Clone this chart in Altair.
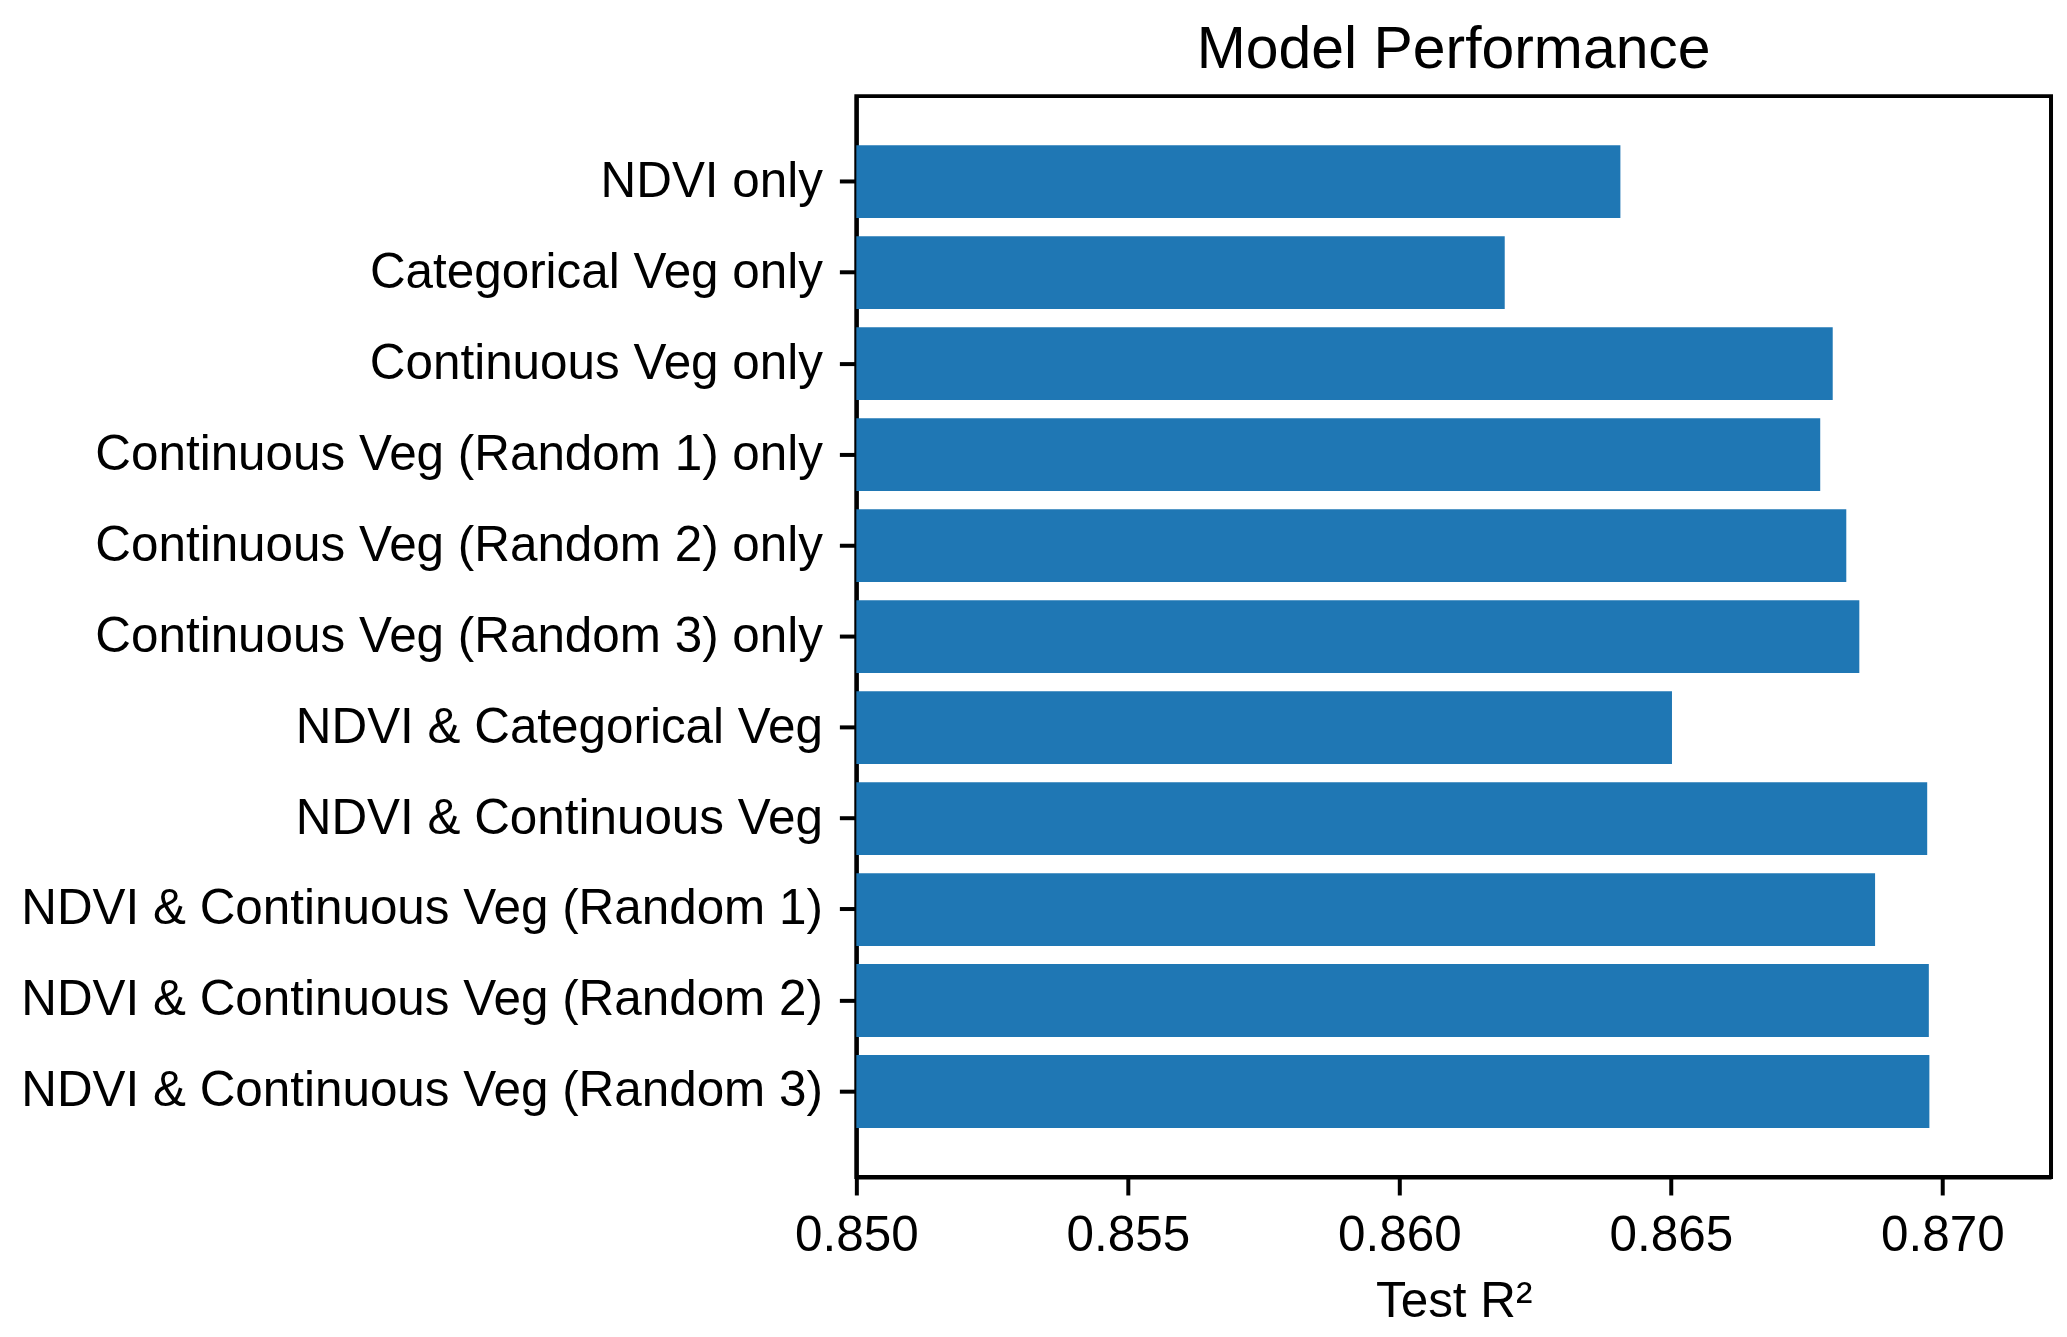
import altair as alt
import pandas as pd

models = [
    "NDVI only",
    "Categorical Veg only",
    "Continuous Veg only",
    "Continuous Veg (Random 1) only",
    "Continuous Veg (Random 2) only",
    "Continuous Veg (Random 3) only",
    "NDVI & Categorical Veg",
    "NDVI & Continuous Veg",
    "NDVI & Continuous Veg (Random 1)",
    "NDVI & Continuous Veg (Random 2)",
    "NDVI & Continuous Veg (Random 3)",
]
test_r2 = [0.86407, 0.86194, 0.86798, 0.86775, 0.86823, 0.86847,
           0.86502, 0.86972, 0.86876, 0.86975, 0.86976]
x_ticks = [0.850, 0.855, 0.860, 0.865, 0.870]
x_domain = [0.850, 0.872]

df = pd.DataFrame({"Model": models, "R2": test_r2})

FONT = "Liberation Sans"

chart = alt.Chart(df).mark_bar(color="#1f77b4").encode(
    y=alt.Y(
        "Model:N",
        sort=None,
        scale=alt.Scale(paddingInner=0.2, paddingOuter=0.54),
        axis=alt.Axis(
            title=None,
            labelFontSize=49.5,
            labelFont=FONT,
            labelColor="black",
            labelPadding=17,
            tickSize=17,
            tickWidth=4,
            tickColor="black",
            domainColor="black",
            domainWidth=4,
            labelLimit=2000,
        ),
    ),
    x=alt.X(
        "R2:Q",
        scale=alt.Scale(domain=x_domain, nice=False, zero=False),
        axis=alt.Axis(
            values=x_ticks,
            format=".3f",
            title="Test R²",
            titleFont=FONT,
            titleFontSize=49.5,
            titleFontWeight="normal",
            titleColor="black",
            titlePadding=17,
            labelFontSize=49.5,
            labelFont=FONT,
            labelColor="black",
            labelPadding=17,
            tickSize=18,
            tickWidth=4,
            tickColor="black",
            domainColor="black",
            domainWidth=4,
            grid=False,
            labelFlush=False,
        ),
    ),
    x2=alt.datum(x_domain[0]),
).properties(
    width=1197,
    height=1083,
    title=alt.TitleParams(
        "Model Performance",
        font=FONT,
        fontSize=59,
        fontWeight="normal",
        color="black",
        offset=16,
        anchor="middle",
    ),
    padding={"left": 12, "top": 12, "right": 8, "bottom": 8},
).configure_view(
    stroke="black",
    strokeWidth=4,
).configure_axis(
    grid=False,
)

chart.save("out.html", embed_options={"renderer": "svg", "actions": False})
